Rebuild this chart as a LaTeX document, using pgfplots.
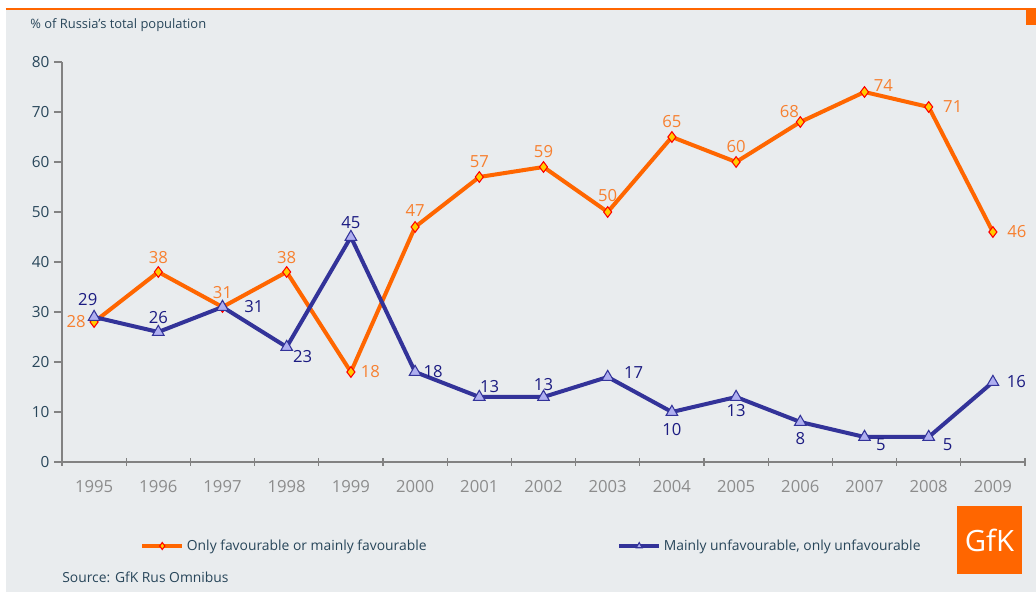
\documentclass[border=0pt]{standalone}
\usepackage{pgfplots}
\pgfplotsset{compat=1.18}
\usepackage{pgfplotstable}
\usepackage{fontspec}
\setmainfont{Open Sans}

\definecolor{panel}{RGB}{233,236,238}
\definecolor{gfkorange}{RGB}{255,102,0}
\definecolor{labelorange}{RGB}{247,128,48}
\definecolor{diamondfill}{RGB}{255,204,0}
\definecolor{linkblue}{RGB}{51,51,153}
\definecolor{trifill}{RGB}{175,175,240}
\definecolor{labelblue}{RGB}{28,28,130}
\definecolor{slate}{RGB}{40,70,90}
\definecolor{axisgray}{RGB}{130,130,130}
\definecolor{ticklabelgray}{RGB}{140,140,140}

% year index, value, label anchor angle, extra label distance (pt)
\pgfplotstableread{
x y ang d
0 28 0 5
1 38 -90 5
2 31 -90 5
3 38 -90 5
4 18 180 6
5 47 -90 6.5
6 57 -90 5.5
7 59 -90 5.5
8 50 -90 6
9 65 -90 5.5
10 60 -90 5.5
11 68 -45 3
12 74 200 6
13 71 180 9.5
14 46 180 9.5
}\favourable

\pgfplotstableread{
x y ang d
0 29 -70 7.5
1 26 -90 4.5
2 31 180 15
3 23 150 4
4 45 -90 4.5
5 18 180 5
6 13 225 2.5
7 13 -90 3
8 17 190 11
9 10 90 7
10 13 90 4.5
11 8 90 6.5
12 5 155 8
13 5 157 10
14 16 180 9
}\unfavourable

\begin{document}
\begin{tikzpicture}
% page and panel
\fill[white] (-46.5pt,-97.5pt) rectangle (730.5pt,346.5pt);
\fill[panel] (-42pt,-97.5pt) rectangle (730.5pt,339pt);
\draw[gfkorange, line width=1.5pt] (-42pt,339.75pt) -- (730.5pt,339.75pt);
\fill[gfkorange] (723pt,327.75pt) rectangle (730.5pt,339pt);
\node[anchor=base west, inner sep=0pt, text=slate, font=\fontsize{9.7}{11}\selectfont]
  at (-24pt,324.75pt) {\% of Russia’s total population};
\node[anchor=west, inner sep=0pt, text=slate, font=\fontsize{10.4}{12}\selectfont]
  at (0pt,-86.25pt) {Source: GfK Rus Omnibus};
\fill[gfkorange] (671.25pt,-84pt) rectangle (720pt,-33pt);
\node[text=white, font=\fontsize{22}{24}\selectfont] at (695.6pt,-58.5pt) {GfK};

\begin{axis}[
  at={(0pt,0pt)}, anchor=south west,
  scale only axis, width=722.25pt, height=300pt,
  xmin=-0.5, xmax=14.5, ymin=0, ymax=80,
  axis lines*=left,
  axis line style={axisgray, line width=1.1pt},
  clip=false,
  /pgf/number format/assume math mode=true,
  ytick={0,10,...,80},
  xtick={-0.5,0.5,...,14.5},
  xticklabels={1995,1996,1997,1998,1999,2000,2001,2002,2003,2004,2005,2006,2007,2008,2009,{}},
  xticklabel style={xshift=24.07pt, yshift=-4pt, text=ticklabelgray, font=\fontsize{12.5}{14}\selectfont},
  yticklabel style={text=slate, font=\fontsize{11.5}{13}\selectfont},
  tick align=outside,
  major tick length=6pt,
  tick style={axisgray, line width=0.9pt},
  x tick style={yshift=3pt},
  legend columns=2,
  legend cell align=left,
  legend style={at={(axis description cs:0.081,-0.21)}, anchor=west,
    draw=none, fill=none, inner sep=0pt,
    font=\fontsize{10.4}{12}\selectfont, text=slate,
    /tikz/every even column/.append style={column sep=141pt}},
  legend image code/.code={\draw[mark repeat=2,mark phase=2,#1]
    plot coordinates {(0pt,0pt) (15pt,0pt) (30pt,0pt)};},
  every legend image post/.style={mark size=2.6pt},
  nodes near coords,
  visualization depends on={\thisrow{ang} \as \ang},
  visualization depends on={\thisrow{d} \as \dd},
]
\addplot[gfkorange, line width=3pt, mark=diamond*, mark size=4pt,
  mark options={fill=diamondfill, draw=red, line width=0.8pt},
  point meta=\thisrow{y},
  nodes near coords style={anchor=\ang, shift={({\ang+180}:\dd pt)},
    text=labelorange, font=\fontsize{12.5}{14}\selectfont, inner sep=1pt}]
  table[x=x, y=y] {\favourable};
\addlegendentry{Only favourable or mainly favourable}
\addplot[linkblue, line width=3pt, mark=triangle*, mark size=5pt,
  mark options={fill=trifill, draw=linkblue, line width=0.8pt},
  point meta=\thisrow{y},
  nodes near coords style={anchor=\ang, shift={({\ang+180}:\dd pt)},
    text=labelblue, font=\fontsize{12.5}{14}\selectfont, inner sep=1pt}]
  table[x=x, y=y] {\unfavourable};
\addlegendentry{Mainly unfavourable, only unfavourable}
\end{axis}

\pgfresetboundingbox
\path[use as bounding box] (-46.5pt,-97.5pt) rectangle (730.5pt,346.5pt);
\end{tikzpicture}
\end{document}
